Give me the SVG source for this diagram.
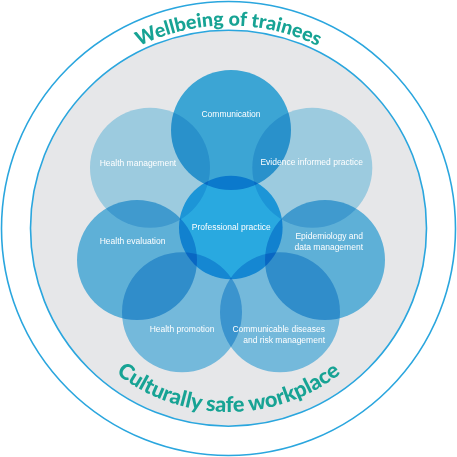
<svg xmlns="http://www.w3.org/2000/svg" width="457" height="457" viewBox="0 0 457 457">
<defs>
<style>
.ring{fill:none;stroke:#2aa6de;stroke-width:1.6}
.bub{mix-blend-mode:multiply}
.lbl{font-family:"Liberation Sans",Arial,sans-serif;font-size:8.5px;fill:#ffffff}
.arc{font-family:"Lato","Open Sans",sans-serif;font-weight:900;fill:#17a394}
</style>
<path id="topArc" d="M 25.5,228.5 A 203 203 0 0 1 431.5,228.5"/>
<path id="botArc" d="M 45,228.5 A 183.5 183.5 0 0 0 412,228.5"/>
</defs>
<rect width="457" height="457" fill="#ffffff"/>
<g id="outer-ring">
<circle class="ring" cx="228.5" cy="228.5" r="227"/>
<text class="arc" font-size="19.5"><textPath href="#topArc" startOffset="50%" text-anchor="middle">Wellbeing of trainees</textPath></text>
</g>
<g id="inner-ring">
<circle cx="228.5" cy="228.2" r="198" fill="#e6e7e9" stroke="#2aa6de" stroke-width="1.6"/>
<text class="arc" font-size="21.5"><textPath href="#botArc" startOffset="50%" text-anchor="middle">Culturally safe workplace</textPath></text>
</g>
<g id="connectors"></g>
<g id="communication">
<circle class="bub" cx="231" cy="130" r="60" fill="#42b6e8"/>
<text class="lbl" x="231" y="116.5" text-anchor="middle">Communication</text>
</g>
<g id="health-management">
<circle class="bub" cx="150" cy="167.7" r="60" fill="#ade0f5"/>
<text class="lbl" x="99.7" y="165.5">Health management</text>
</g>
<g id="evidence-informed-practice">
<circle class="bub" cx="312.3" cy="167.7" r="60" fill="#ade0f5"/>
<text class="lbl" x="311.7" y="164.5" text-anchor="middle">Evidence informed practice</text>
</g>
<g id="professional-practice">
<circle class="bub" cx="230.8" cy="227.5" r="51.8" fill="#2dbbf6"/>
<text class="lbl" x="231.3" y="229.5" text-anchor="middle">Professional practice</text>
</g>
<g id="health-evaluation">
<circle class="bub" cx="137" cy="260" r="60" fill="#68c2ec"/>
<text class="lbl" x="99.7" y="244">Health evaluation</text>
</g>
<g id="epidemiology">
<circle class="bub" cx="325" cy="260" r="60" fill="#68c2ec"/>
<text class="lbl" x="363" y="238.5" text-anchor="end">Epidemiology and</text>
<text class="lbl" x="363" y="249.5" text-anchor="end">data management</text>
</g>
<g id="health-promotion">
<circle class="bub" cx="182" cy="312.3" r="60" fill="#81ccf0"/>
<text class="lbl" x="182" y="331.5" text-anchor="middle">Health promotion</text>
</g>
<g id="communicable-diseases">
<circle class="bub" cx="280" cy="312.3" r="60" fill="#81ccf0"/>
<text class="lbl" x="325" y="331.5" text-anchor="end">Communicable diseases</text>
<text class="lbl" x="325" y="342.5" text-anchor="end">and risk management</text>
</g>
</svg>
